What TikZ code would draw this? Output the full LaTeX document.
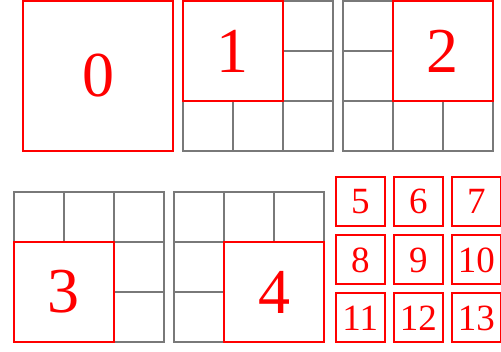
\documentclass[tikz,border=0pt]{standalone}
\usepackage{fontspec}
\setmainfont{Liberation Serif}
\begin{document}
\begin{tikzpicture}[x=1pt,y=-1pt,
  gridline/.style={draw=gray!95!black, line width=2pt},
  bigsq/.style={draw=red, fill=white, line width=2pt, minimum size=100pt, inner sep=0pt, text=red, font=\fontsize{64}{64}\selectfont},
  hugesq/.style={bigsq, minimum size=150pt},
  smallsq/.style={draw=red, fill=white, line width=2pt, minimum size=49pt, inner sep=0pt, text=red, font=\fontsize{37}{37}\selectfont},
  gridpic/.pic={\draw[gridline] (0,0) rectangle (150,150)
    (50,0) -- (50,150) (100,0) -- (100,150) (0,50) -- (150,50) (0,100) -- (150,100);}]
\useasboundingbox (0,0) rectangle (501,352);
% panel 0
\node[hugesq] (p0) at (98,76) {0};
% panel 1
\pic at (182.5,1) {gridpic};
\node[bigsq] (p1) at (232.5,51) {1};
% panel 2
\pic at (342.5,1) {gridpic};
\node[bigsq] (p2) at (442.5,51) {2};
% panel 3
\pic at (13.5,192) {gridpic};
\node[bigsq] (p3) at (63.5,292) {3};
% panel 4
\pic at (174,192) {gridpic};
\node[bigsq] (p4) at (274,292) {4};
% small squares
\node[smallsq] (s5) at (360.3,201.3) {5};
\node[smallsq] (s6) at (418.3,201.3) {6};
\node[smallsq] (s7) at (476.3,201.3) {7};
\node[smallsq] (s8) at (360.3,260) {8};
\node[smallsq] (s9) at (418.3,260) {9};
\node[smallsq] (s10) at (476.3,260) {10};
\node[smallsq] (s11) at (360.3,318) {11};
\node[smallsq] (s12) at (418.3,318) {12};
\node[smallsq] (s13) at (476.3,318) {13};
\end{tikzpicture}
\end{document}
